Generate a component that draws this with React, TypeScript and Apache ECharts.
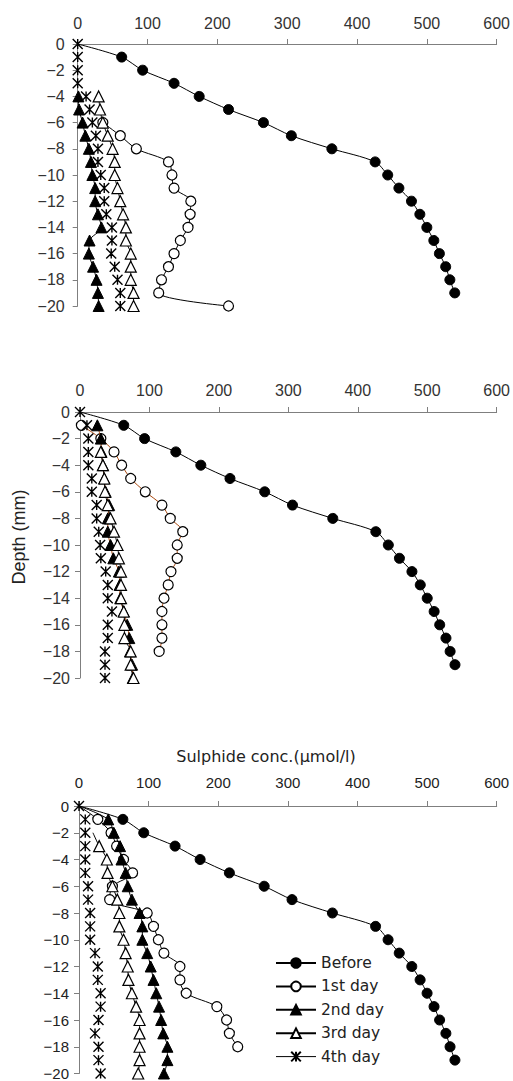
import React, { useEffect, useRef } from "react";
import * as echarts from "echarts";

// Depths (mm), shared by all three panels
const depths = [0, -1, -2, -3, -4, -5, -6, -7, -8, -9, -10, -11, -12, -13, -14, -15, -16, -17, -18, -19, -20];
const seriesNames = ["Before", "1st day", "2nd day", "3rd day", "4th day"];
const xTickMax = 600;
const xTickStep = 100;

// Before (same curve in all panels)
const before = [0, 63, 93, 138, 174, 216, 266, 306, 364, 426, 444, 460, 478, 490, 500, 510, 518, 527, 533, 540, null];

// Panel 1
const p1Day1 = [null, null, null, null, null, null, 36, 61, 84, 130, 135, 138, 162, 161, 158, 147, 138, 130, 120, 116, 216];
const p1Day2 = [null, null, null, null, 1, 2, 7, 11, 16, 19, 21, 25, 25, 29, 34, 17, 16, 22, 27, 29, 30];
const p1Day3 = [null, null, null, null, 30, 32, 36, 43, 50, 53, 53, 57, 61, 65, 69, 69, 76, 76, 76, 80, 80];
const p1Day4 = [0, 0, 0, 0, 12, 17, 21, 26, 29, 29, 33, 38, 38, 41, 49, 49, 48, 53, 57, 61, 61];

// Panel 2
const p2Day1 = [null, 2, 30, 49, 60, 73, 94, 118, 130, 148, 140, 140, 131, 127, 121, 118, 118, 118, 114, null, null];
const p2Day2 = [null, 25, 30, 31, 33, 35, 37, 42, 40, 40, 44, 48, 56, 57, 58, 63, 68, 71, 72, 75, 76];
const p2Day3 = [null, null, null, 30, 33, 35, 36, 40, 44, 49, 54, 56, 59, 59, 59, 63, 64, 64, 73, 73, 77];
const p2Day4 = [0, 10, 12, 12, 12, 17, 17, 24, 24, 27, 29, 30, 37, 40, 40, 46, 40, 40, 36, 36, 36];

// Panel 3
const p3Day1 = [0, 27, 46, 54, 64, 77, 48, 44, 98, 107, 114, 122, 145, 145, 154, 198, 212, 216, 228, null, null];
const p3Day2 = [0, 42, 50, 59, 61, 67, 70, 76, 87, 91, 91, 98, 103, 107, 111, 115, 118, 121, 127, 127, 122];
const p3Day3 = [null, null, 20, 29, 40, 41, 48, 55, 58, 58, 64, 67, 70, 71, 76, 82, 87, 87, 87, 87, 85];
const p3Day4 = [0, 9, 9, 9, 9, 9, 13, 13, 16, 16, 16, 23, 27, 27, 31, 31, 28, 23, 28, 28, 31];

// depths at which a series point has no visible marker
const beforeNoMarker = [0];
const p3Day1NoMarker = [0];
const p3Day2NoMarker = [0];
const p3Day3NoMarker = [-2];

const STAR = "path://M0,0L10,10M10,0L0,10M5,0L5,10";
const BROWN = "#a8480f";

function toData(values: (number | null)[], noMarker: number[] = []) {
  const out: any[] = [];
  values.forEach((v, i) => {
    if (v == null) return;
    const d = depths[i];
    if (noMarker.indexOf(d) >= 0) out.push({ value: [v, d], symbol: "none" });
    else out.push([v, d]);
  });
  return out;
}

function mk(name: string, grid: number, values: (number | null)[], opts: any = {}) {
  const kind = seriesNames.indexOf(name);
  const lineColor = opts.lineColor || "#000";
  let symbol: string = "circle";
  let symbolSize = 10;
  let itemStyle: any = { color: "#000", borderColor: "#000", borderWidth: 1 };
  if (kind === 1) itemStyle = { color: "#fff", borderColor: "#000", borderWidth: 1.2 };
  if (kind === 2) { symbol = "triangle"; symbolSize = 11; }
  if (kind === 3) { symbol = "triangle"; symbolSize = 11; itemStyle = { color: "#fff", borderColor: "#000", borderWidth: 1.2 }; }
  if (kind === 4) { symbol = STAR; symbolSize = 10; itemStyle = { color: "transparent", borderColor: "#000", borderWidth: 1.4 }; }
  return {
    type: "line",
    name,
    xAxisIndex: grid,
    yAxisIndex: grid,
    data: toData(values, opts.noMarker || []),
    symbol,
    symbolSize,
    showAllSymbol: true,
    smooth: 0.3,
    itemStyle,
    lineStyle: kind === 4 ? { width: 0, opacity: 0, color: "#000" } : { width: 1, color: lineColor },
    emphasis: { disabled: true },
    z: 2 + kind,
  };
}

const yFmt = (v: number) => (v === 0 ? "0" : "\u2212" + Math.abs(v));

function xAxis(grid: number, fontSize: number, margin: number, family: string, color: string) {
  return {
    type: "value",
    gridIndex: grid,
    position: "top",
    min: 0,
    max: xTickMax,
    interval: xTickStep,
    axisLine: { show: true, onZero: false, lineStyle: { color: "#7f7f7f", width: 1 } },
    axisTick: { show: true, length: 5, lineStyle: { color: "#7f7f7f" } },
    splitLine: { show: false },
    axisLabel: { fontSize, margin, fontFamily: family, color },
  };
}
function yAxis(grid: number, fontSize: number, margin: number, family: string, color: string) {
  return {
    type: "value",
    gridIndex: grid,
    min: -20,
    max: 0,
    interval: 2,
    axisLine: { show: true, onZero: false, lineStyle: { color: "#7f7f7f", width: 1 } },
    axisTick: { show: true, length: 5, lineStyle: { color: "#7f7f7f" } },
    splitLine: { show: false },
    axisLabel: { fontSize, margin, fontFamily: family, color, formatter: yFmt },
  };
}

export default function App() {
  const ref = useRef<HTMLDivElement>(null);
  useEffect(() => {
    if (!ref.current) return;
    const chart = echarts.init(ref.current, null, { renderer: "svg" });
    const sans = "Liberation Sans, Arial, sans-serif";
    const wide = "DejaVu Sans, sans-serif";
    const option: any = {
      animation: false,
      backgroundColor: "#fff",
      grid: [
        { left: 77.7, top: 44, width: 420, height: 262 },
        { left: 80, top: 412, width: 417.7, height: 266 },
        { left: 79, top: 806, width: 417.7, height: 268 },
      ],
      xAxis: [
        xAxis(0, 16, 13, sans, "#333"),
        xAxis(1, 16, 14, sans, "#333"),
        xAxis(2, 15, 16, sans, "#222"),
      ],
      yAxis: [
        yAxis(0, 16, 13, sans, "#333"),
        yAxis(1, 16, 10, sans, "#333"),
        yAxis(2, 15, 10, sans, "#222"),
      ],
      legend: {
        orient: "vertical",
        left: 270,
        top: 950,
        itemWidth: 40,
        itemHeight: 12,
        itemGap: 7.4,
        textStyle: { fontFamily: wide, fontSize: 15.5, color: "#222", lineHeight: 16 },
        data: [
          { name: "Before" },
          { name: "1st day" },
          { name: "2nd day" },
          { name: "3rd day" },
          { name: "4th day", lineStyle: { width: 1, opacity: 1, color: "#000" } },
        ],
        selectedMode: false,
      },
      graphic: [
        {
          type: "text",
          x: 19,
          y: 537,
          rotation: Math.PI / 2,
          style: { text: "Depth (mm)", fontSize: 18, fontFamily: sans, fill: "#222", align: "center", verticalAlign: "middle" },
        },
        {
          type: "text",
          x: 266,
          y: 756,
          style: { text: "Sulphide conc.(\u00b5mol/l)", fontSize: 16, fontFamily: wide, fill: "#222", align: "center", verticalAlign: "middle" },
        },
      ],
      series: [
        mk("Before", 0, before, { noMarker: beforeNoMarker }),
        mk("1st day", 0, p1Day1),
        mk("2nd day", 0, p1Day2),
        mk("3rd day", 0, p1Day3),
        mk("4th day", 0, p1Day4),
        mk("Before", 1, before, { noMarker: beforeNoMarker }),
        mk("1st day", 1, p2Day1, { lineColor: BROWN }),
        mk("2nd day", 1, p2Day2, { lineColor: BROWN }),
        mk("3rd day", 1, p2Day3),
        mk("4th day", 1, p2Day4),
        mk("Before", 2, before, { noMarker: beforeNoMarker }),
        mk("1st day", 2, p3Day1, { noMarker: p3Day1NoMarker }),
        mk("2nd day", 2, p3Day2, { noMarker: p3Day2NoMarker }),
        mk("3rd day", 2, p3Day3, { noMarker: p3Day3NoMarker }),
        mk("4th day", 2, p3Day4),
      ],
    };
    chart.setOption(option);
    return () => chart.dispose();
  }, []);
  return (
    <div
      ref={ref}
      style={{ position: "absolute", left: 0, top: 0, width: 513, height: 1081, background: "#fff" }}
    />
  );
}
